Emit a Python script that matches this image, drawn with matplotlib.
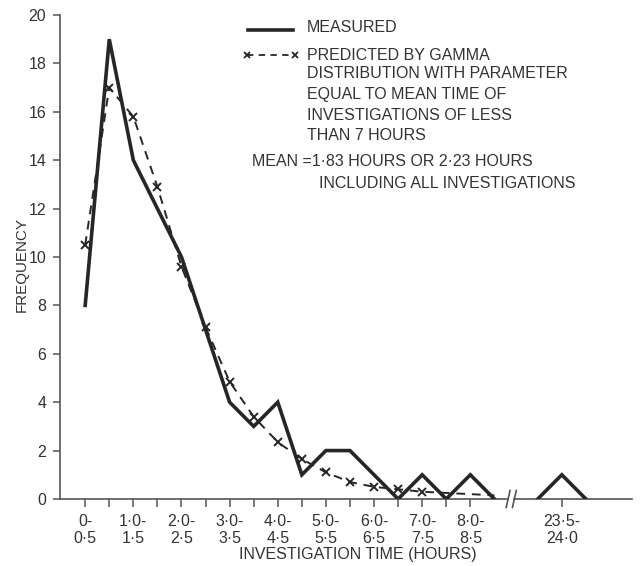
import matplotlib
matplotlib.use("Agg")
import matplotlib.pyplot as plt
import numpy as np

plt.rcParams['font.family'] = ['Liberation Sans', 'DejaVu Sans']

# ---- data (half-hour intervals, labelled by interval start in hours) ----
interval_start = [0.0, 0.5, 1.0, 1.5, 2.0, 2.5, 3.0, 3.5, 4.0, 4.5,
                  5.0, 5.5, 6.0, 6.5, 7.0, 7.5, 8.0, 8.5]
measured = [8, 19, 14, 12, 10, 7, 4, 3, 4, 1, 2, 2, 1, 0, 1, 0, 1, 0]
predicted = [10.5, 17.0, 15.8, 12.9, 9.6, 7.1, 4.85, 3.4, 2.35, 1.65,
             1.1, 0.7, 0.5, 0.4, 0.3, 0.25, 0.2, 0.15]
late_start = [23.0, 23.5, 24.0]
late_measured = [0, 1, 0]
tick_labels = ["0-\n0·5", "1·0-\n1·5", "2·0-\n2·5", "3·0-\n3·5", "4·0-\n4·5",
               "5·0-\n5·5", "6·0-\n6·5", "7·0-\n7·5", "8·0-\n8·5", "23·5-\n24·0"]
labelled_start = [0.0, 1.0, 2.0, 3.0, 4.0, 5.0, 6.0, 7.0, 8.0, 23.5]

# ---- axis-position mapping with a break between 9 and 23 hours ----
BIN = 0.5
LATE_SHIFT = 27.2     # slots removed by the axis break
BREAK_POS = 17.7


def pos(h):
    h = np.asarray(h, dtype=float)
    return np.where(h < 12, h / BIN, h / BIN - LATE_SHIFT)


INK = '#262626'
AX = '#555555'
TXT = '#333333'
FS = 11.5

fig = plt.figure(figsize=(6.4, 5.66), dpi=100)
ax = fig.add_axes([0.094, 0.1184, 0.894, 0.8551])

ax.plot(pos(interval_start), predicted, color=INK, lw=1.4, ls=(0, (4.5, 3.5)),
        marker='x', ms=6, mew=1.4, markevery=list(range(15)), zorder=3)
ax.plot(pos(interval_start), measured, color=INK, lw=2.6,
        solid_joinstyle='miter', zorder=4)
ax.plot(pos(late_start), late_measured, color=INK, lw=2.6,
        solid_joinstyle='miter', zorder=4)

xl, xr = -1.04, 22.73
ax.set_xlim(xl, xr)
ax.set_ylim(0, 20)

for s in ['top', 'right', 'bottom']:
    ax.spines[s].set_visible(False)
ax.spines['left'].set_color(AX)
ax.spines['left'].set_linewidth(1.2)

# broken x axis line
gap = 0.13
ax.plot([xl, BREAK_POS - gap], [0, 0], color=AX, lw=1.2, clip_on=False, zorder=2)
ax.plot([BREAK_POS + gap, xr], [0, 0], color=AX, lw=1.2, clip_on=False, zorder=2)
for d in (-gap, gap):
    ax.plot([BREAK_POS + d - 0.08, BREAK_POS + d + 0.08], [-0.35, 0.35],
            color=AX, lw=1.2, clip_on=False, zorder=2)

# ticks
major = list(pos(labelled_start))
minor = [p for p in pos(interval_start[:17]) if p not in major]
ax.set_xticks(major)
ax.set_xticklabels(tick_labels, fontsize=FS, color=TXT, linespacing=1.15)
ax.set_xticks(minor, minor=True)
ax.tick_params(axis='x', which='both', direction='out', length=6, width=1.1,
               color=AX, pad=5)
ax.set_yticks(range(0, 21, 2))
ax.set_yticklabels([str(v) for v in range(0, 21, 2)], fontsize=FS, color=TXT)
ax.tick_params(axis='y', direction='out', length=5, width=1.1, color=AX, pad=5)

fig.text(22 / 640, 1 - 265 / 566, 'FREQUENCY', rotation=90, ha='center',
         va='center', fontsize=FS * 0.95, color=TXT)
fig.text(358 / 640, 1 - 555 / 566, 'INVESTIGATION TIME (HOURS)', ha='center',
         va='center', fontsize=FS, color=TXT)

# legend / annotation block (figure pixel positions)
def fx(px):
    return px / 640


def fy(py):
    return 1 - py / 566


fig.add_artist(plt.Line2D([fx(248), fx(293)], [fy(30), fy(30)], color=INK, lw=2.6))
fig.add_artist(plt.Line2D([fx(247), fx(295)], [fy(55), fy(55)], color=INK, lw=1.3,
                          ls=(0, (3.5, 3)), marker='x', ms=5, mew=1.3))
leg_lines = [(28, 'MEASURED'), (55, 'PREDICTED BY GAMMA'),
             (74, 'DISTRIBUTION WITH PARAMETER'), (95, 'EQUAL TO MEAN TIME OF'),
             (115, 'INVESTIGATIONS OF LESS'), (136, 'THAN 7 HOURS')]
for py, t in leg_lines:
    fig.text(fx(307), fy(py), t, ha='left', va='center', fontsize=FS, color=TXT)
fig.text(fx(252), fy(161), 'MEAN =1·83 HOURS OR 2·23 HOURS', ha='left',
         va='center', fontsize=FS, color=TXT)
fig.text(fx(319), fy(184), 'INCLUDING ALL INVESTIGATIONS', ha='left',
         va='center', fontsize=FS, color=TXT)

fig.savefig('out.png', dpi=100)
